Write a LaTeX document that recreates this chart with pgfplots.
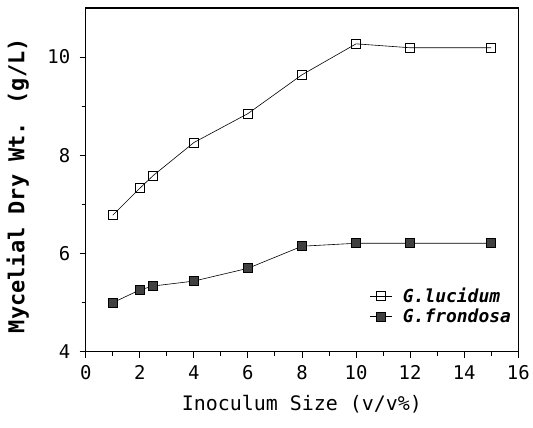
\documentclass[border=0pt]{standalone}
\usepackage{pgfplots}
\pgfplotsset{compat=1.18}
\usepackage{fontspec}
\setmainfont{DejaVu Sans Mono}
\begin{document}
\begin{tikzpicture}
\begin{axis}[
  name=ax,
  scale only axis,
  width=434pt, height=345pt,
  xmin=0, xmax=16, ymin=4, ymax=11,
  xtick={0,2,...,16}, ytick={4,6,8,10},
  minor xtick={1,3,...,15}, minor ytick={5,7,9},
  xtick pos=bottom, ytick pos=left,
  tick align=outside,
  major tick length=6pt, minor tick length=4pt,
  axis line style={line width=1.3pt},
  tick style={line width=1pt, black},
  /pgf/number format/assume math mode=true,
  ticklabel style={font=\fontsize{19}{22}\selectfont},
  xticklabel style={yshift=-4pt},
  yticklabel style={xshift=-6pt},
  xlabel={Inoculum Size (v/v\%)},
  ylabel={Mycelial Dry Wt. (g/L)},
  xlabel style={font=\fontsize{20}{22}\selectfont, at={(axis description cs:0.5,-0.153)}, anchor=center},
  ylabel style={font=\bfseries\fontsize{22}{24}\selectfont, at={(axis description cs:-0.157,0.483)}, anchor=center, rotate=0},
  legend style={draw=none, fill=none, at={(axis description cs:0.995,0.133)}, anchor=east, font=\bfseries\itshape\fontsize{18}{22}\selectfont, row sep=1pt},
  legend cell align=left,
  legend image code/.code={\draw[mark repeat=2,mark phase=2] plot coordinates {(0cm,0cm) (0.38cm,0cm) (0.76cm,0cm)};},
]
\addplot[black, line width=0.6pt, mark=square, mark size=4.5pt, mark options={fill=white, line width=0.8pt}]
  coordinates {(1,6.78) (2,7.33) (2.5,7.59) (4,8.26) (6,8.85) (8,9.64) (10,10.27) (12,10.19) (15,10.19)};
\addlegendentry{\hspace{9pt}G.lucidum}
\addplot[black, line width=0.6pt, mark=square*, mark size=4.5pt, mark options={fill=black!75, line width=0.8pt}]
  coordinates {(1,5.0) (2,5.26) (2.5,5.34) (4,5.44) (6,5.70) (8,6.15) (10,6.21) (12,6.21) (15,6.21)};
\addlegendentry{\hspace{9pt}G.frondosa}
\end{axis}
\useasboundingbox ([xshift=-86pt,yshift=-76pt]ax.south west) rectangle ([xshift=13pt,yshift=8pt]ax.north east);
\end{tikzpicture}
\end{document}
